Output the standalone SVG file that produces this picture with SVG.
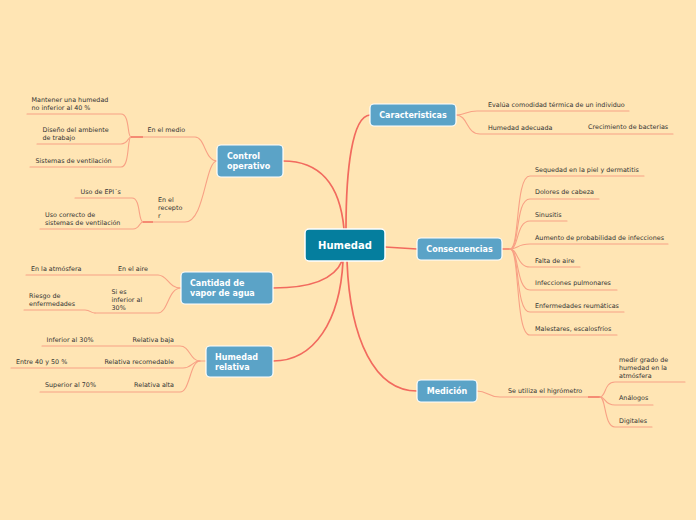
<svg xmlns="http://www.w3.org/2000/svg" width="696" height="520" viewBox="0 0 696 520">
<style>
.bg{fill:#FFE5B4}
.main{fill:none;stroke:#F26A5E;stroke-width:1.7;stroke-linecap:round}
.leaf{fill:none;stroke:#F8A185;stroke-width:1.1;stroke-linecap:round}
.join{fill:none;stroke:#F47E6A;stroke-width:1.6}
.box{fill:#5BA3C7;stroke:#FFFFFF;stroke-width:1.2}
.root{fill:#057E9E;stroke:#FFFFFF;stroke-width:1.5}
.bl{font-family:"DejaVu Sans",sans-serif;font-weight:bold;font-size:8px;fill:#FFFFFF}
.rl{font-family:"DejaVu Sans",sans-serif;font-weight:bold;font-size:10px;fill:#FFFFFF}
.t{font-family:"DejaVu Sans",sans-serif;font-size:6.4px;fill:#333333}
</style>
<rect class="bg" x="0" y="0" width="696" height="520"/>
<g id="connectors">
<path class="main" d="M344,229 C340,185 320,161 283,161"/>
<path class="main" d="M346,229 C346,170 352,116 370,115"/>
<path class="main" d="M342,261 C334,280 310,288 273,288"/>
<path class="main" d="M343,261 C340,320 315,361 273,361"/>
<path class="main" d="M347,261 C350,340 375,391 417,391"/>
<path class="main" d="M385,247 L417,249"/>
<path class="leaf" d="M217,161 C205,161 205,137 195,137 L131,137"/>
<path class="leaf" d="M27,114 L121,114 C130,114 127,137 131,137"/>
<path class="leaf" d="M37,144 L121,144 C128,144 128,137 131,137"/>
<path class="leaf" d="M30,167 L121,167 C130,167 127,137 131,137"/>
<path class="join" d="M131,137 L143,137"/>
<path class="leaf" d="M217,161 C205,161 205,222 185,222 L143,222"/>
<path class="leaf" d="M75,198 L132,198 C141,198 138,222 143,222"/>
<path class="leaf" d="M40,229 L133,229 C140,229 139,222 143,222"/>
<path class="join" d="M143,222 L153,222"/>
<path class="leaf" d="M181,288 C168,288 168,275 158,275 L26,275"/>
<path class="leaf" d="M181,288 C168,288 168,313 158,313 L95,313"/>
<path class="leaf" d="M24,310 L85,310 C91,310 90,313 95,313"/>
<path class="leaf" d="M206,361 L200,361 C190,361 190,346 180,346 L42,346"/>
<path class="leaf" d="M200,361 C192,361 192,368 183,368 L11,368"/>
<path class="leaf" d="M200,361 C190,361 190,392 180,392 L40,392"/>
<path class="leaf" d="M456,115 C466,115 466,111 477,111 L629,111"/>
<path class="leaf" d="M456,115 C468,115 466,134 480,134 L587,134 L673,134"/>
<path class="join" d="M502,249 L511,249"/>
<path class="leaf" d="M510,249 C520,249 515,176 530,176 L644,176"/>
<path class="leaf" d="M510,249 C520,249 515,199 530,199 L599,199"/>
<path class="leaf" d="M510,249 C519,249 516,221 530,221 L567,221"/>
<path class="leaf" d="M510,249 C518,249 517,244 530,244 L668,244"/>
<path class="leaf" d="M510,249 C518,249 517,267 530,267 L580,267"/>
<path class="leaf" d="M510,249 C519,249 516,290 530,290 L617,290"/>
<path class="leaf" d="M510,249 C520,249 515,312 530,312 L624,312"/>
<path class="leaf" d="M510,249 C520,249 515,335 530,335 L617,335"/>
<path class="leaf" d="M477,391 C488,391 487,397 500,397 L600,397"/>
<path class="join" d="M588,397 L600,397"/>
<path class="leaf" d="M600,397 C606,397 604,382 615,382 L685,382"/>
<path class="leaf" d="M600,397 C606,397 604,405 615,405 L653,405"/>
<path class="leaf" d="M600,397 C606,397 604,427 615,427 L652,427"/>
</g>
<g id="n-humedad"><rect class="root" x="305" y="229" width="80" height="32" rx="4"/><text class="rl" x="345" y="249" text-anchor="middle">Humedad</text></g>
<g id="n-control"><rect class="box" x="217" y="145" width="66" height="32" rx="4"/><text class="bl" x="227" y="158.5">Control</text><text class="bl" x="227" y="168.5">operativo</text></g>
<g id="n-cantidad"><rect class="box" x="181" y="272" width="92" height="32" rx="4"/><text class="bl" x="190" y="285.5">Cantidad de</text><text class="bl" x="190" y="295.5">vapor de agua</text></g>
<g id="n-relativa"><rect class="box" x="206" y="346" width="67" height="31" rx="4"/><text class="bl" x="215" y="359.5">Humedad</text><text class="bl" x="215" y="370">relativa</text></g>
<g id="n-caract"><rect class="box" x="370" y="104" width="86" height="22" rx="4"/><text class="bl" x="413" y="118" text-anchor="middle">Caracteristicas</text></g>
<g id="n-consec"><rect class="box" x="417" y="238" width="85" height="22" rx="4"/><text class="bl" x="459.5" y="252" text-anchor="middle">Consecuencias</text></g>
<g id="n-medicion"><rect class="box" x="417" y="380" width="60" height="22" rx="4"/><text class="bl" x="447" y="394" text-anchor="middle">Medición</text></g>
<g id="n-leaves-left">
<text class="t" x="147.5" y="132">En el medio</text>
<text class="t" x="31.5" y="102">Mantener una humedad</text>
<text class="t" x="31.5" y="110">no inferior al 40 %</text>
<text class="t" x="42.5" y="132">Diseño del ambiente</text>
<text class="t" x="42.5" y="140">de trabajo</text>
<text class="t" x="35.5" y="163">Sistemas de ventilación</text>
<text class="t" x="158" y="202">En el</text>
<text class="t" x="158" y="210">recepto</text>
<text class="t" x="158" y="218">r</text>
<text class="t" x="80.5" y="194">Uso de EPI´s</text>
<text class="t" x="45" y="216.5">Uso correcto de</text>
<text class="t" x="45" y="224.5">sistemas de ventilación</text>
<text class="t" x="31" y="271">En la atmósfera</text>
<text class="t" x="118" y="271">En el aire</text>
<text class="t" x="29" y="297.5">Riesgo de</text>
<text class="t" x="29" y="305.5">enfermedades</text>
<text class="t" x="111.5" y="294">Si es</text>
<text class="t" x="111.5" y="302">inferior al</text>
<text class="t" x="111.5" y="310">30%</text>
<text class="t" x="46.5" y="341.5">Inferior al 30%</text>
<text class="t" x="174" y="341.5" text-anchor="end">Relativa baja</text>
<text class="t" x="16" y="363.5">Entre 40 y 50 %</text>
<text class="t" x="174" y="364" text-anchor="end">Relativa recomedable</text>
<text class="t" x="45" y="387">Superior al 70%</text>
<text class="t" x="174" y="387" text-anchor="end">Relativa alta</text>
</g>
<g id="n-leaves-right">
<text class="t" x="488" y="106.5">Evalúa comodidad térmica de un individuo</text>
<text class="t" x="488" y="130">Humedad adecuada</text>
<text class="t" x="588" y="129">Crecimiento de bacterias</text>
<text class="t" x="535" y="172">Sequedad en la piel y dermatitis</text>
<text class="t" x="535" y="194">Dolores de cabeza</text>
<text class="t" x="535" y="216.5">Sinusitis</text>
<text class="t" x="535" y="239.5">Aumento de probabilidad de infecciones</text>
<text class="t" x="535" y="262.5">Falta de aire</text>
<text class="t" x="535" y="285">Infecciones pulmonares</text>
<text class="t" x="535" y="307.5">Enfermedades reumáticas</text>
<text class="t" x="535" y="330.5">Malestares, escalosfríos</text>
<text class="t" x="508" y="393">Se utiliza el higrómetro</text>
<text class="t" x="619" y="362">medir grado de</text>
<text class="t" x="619" y="370">humedad en la</text>
<text class="t" x="619" y="377.5">atmósfera</text>
<text class="t" x="619" y="400">Análogos</text>
<text class="t" x="619" y="423">Digitales</text>
</g>
</svg>
